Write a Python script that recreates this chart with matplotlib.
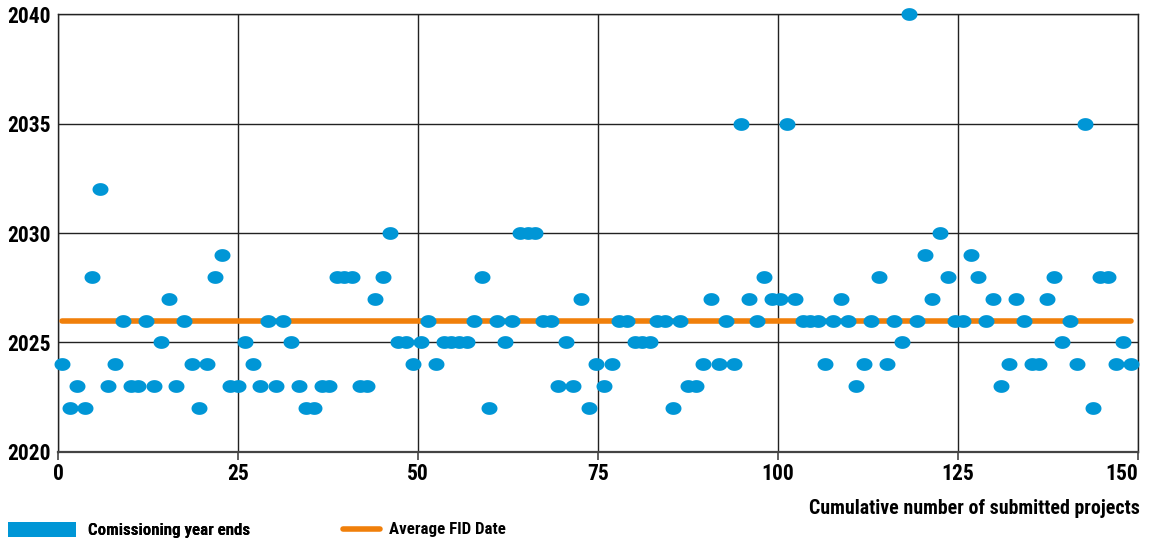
#!/usr/bin/env python3

import numpy as np
import matplotlib
matplotlib.use("Agg")
import matplotlib.pyplot as plt
from matplotlib import font_manager
from matplotlib.path import Path
from matplotlib.patches import Patch
from matplotlib.lines import Line2D

# pick a narrow face if one is around, else condensed DejaVu
faces = {(f.name, f.stretch) for f in font_manager.fontManager.ttflist}
names = {f[0] for f in faces}
stretch = "normal"
if "Liberation Sans Narrow" in names:
    family = "Liberation Sans Narrow"
elif "Roboto Condensed" in names:
    family = "Roboto Condensed"
elif any(n == "DejaVu Sans" and s in ("condensed", "semi-condensed") for n, s in faces):
    family, stretch = "DejaVu Sans", "condensed"
else:
    family = "Roboto"
plt.rcParams['font.family'] = [family, 'DejaVu Sans']
plt.rcParams['font.stretch'] = stretch
plt.rcParams['font.weight'] = 'bold'

# commissioning year of each submitted project, in submission order
commissioning_year = [
    2024, 2022, 2023, 2022, 2028, 2032, 2023, 2024, 2026, 2023,
    2023, 2026, 2023, 2025, 2027, 2023, 2026, 2024, 2022, 2024,
    2028, 2029, 2023, 2023, 2025, 2024, 2023, 2026, 2023, 2026,
    2025, 2023, 2022, 2022, 2023, 2023, 2028, 2028, 2028, 2023,
    2023, 2027, 2028, 2030, 2025, 2025, 2024, 2025, 2026, 2024,
    2025, 2025, 2025, 2025, 2026, 2028, 2022, 2026, 2025, 2026,
    2030, 2030, 2030, 2026, 2026, 2023, 2025, 2023, 2027, 2022,
    2024, 2023, 2024, 2026, 2026, 2025, 2025, 2025, 2026, 2026,
    2022, 2026, 2023, 2023, 2024, 2027, 2024, 2026, 2024, 2035,
    2027, 2026, 2028, 2027, 2027, 2035, 2027, 2026, 2026, 2026,
    2024, 2026, 2027, 2026, 2023, 2024, 2026, 2028, 2024, 2026,
    2025, 2040, 2026, 2029, 2027, 2030, 2028, 2026, 2026, 2029,
    2028, 2026, 2027, 2023, 2024, 2027, 2026, 2024, 2024, 2027,
    2028, 2025, 2026, 2024, 2035, 2022, 2028, 2028, 2024, 2025,
    2024,
]
avg_fid = 2026
x_start, x_end = 0.55, 149.0   # first / last project position on the axis

x_ticks = [0, 25, 50, 75, 100, 125, 150]
y_ticks = [2020, 2025, 2030, 2035, 2040]

BLUE = "#0096D6"
ORANGE = "#F07F0A"
DARK = "#222222"

n = len(commissioning_year)
xs = np.linspace(x_start, x_end, n)

# slightly wide ellipse marker
t = np.linspace(0, 2 * np.pi, 60)
ellipse = Path(np.column_stack([1.25 * np.cos(t), np.sin(t)]), closed=True)

fig = plt.figure(figsize=(11.5, 5.43), dpi=100)
ax = fig.add_axes([0.0504, 0.1676, 0.9392, 0.8066])

ax.plot([xs[0], xs[-1]], [avg_fid, avg_fid], color=ORANGE, lw=4,
        solid_capstyle="round", zorder=3)
ax.plot(xs, commissioning_year, ls="none", marker=ellipse, ms=11.5,
        mfc=BLUE, mec="none", zorder=4, clip_on=False)

ax.set_xlim(0, 150)
ax.set_ylim(2020, 2040)
ax.set_xticks(x_ticks)
ax.set_yticks(y_ticks)
ax.grid(True, color=DARK, lw=1.0)
ax.set_axisbelow(True)
for s in ax.spines.values():
    s.set_color(DARK)
    s.set_linewidth(1.0)
ax.spines["bottom"].set_color("#444444")
ax.spines["bottom"].set_linewidth(1.6)

ax.tick_params(axis="x", direction="out", length=6, width=1.2, color="#444444",
               labelsize=15.5, pad=2)
ax.tick_params(axis="y", length=0, labelsize=15.5, pad=5)
for lab in ax.get_xticklabels() + ax.get_yticklabels():
    lab.set_fontweight("bold")
ax.get_xticklabels()[-1].set_horizontalalignment("right")

fig.text(0.9913, 0.064, "Cumulative number of submitted projects",
         ha="right", va="center", fontsize=14.3, fontweight="bold")

leg1 = fig.legend(handles=[Patch(facecolor=BLUE, edgecolor="none",
                                 label="Comissioning year ends")],
                  loc="center left", bbox_to_anchor=(0.007, 0.024),
                  frameon=False, fontsize=12.2, handlelength=4.0,
                  handleheight=1.0, handletextpad=0.72, borderpad=0,
                  borderaxespad=0)
fig.legend(handles=[Line2D([], [], color=ORANGE, lw=4, solid_capstyle="round",
                           label="Average FID Date")],
           loc="center left", bbox_to_anchor=(0.298, 0.024),
           frameon=False, fontsize=12.2, handlelength=2.2,
           handletextpad=0.55, borderpad=0, borderaxespad=0)
fig.add_artist(leg1)

plt.savefig("out.png", dpi=100)
